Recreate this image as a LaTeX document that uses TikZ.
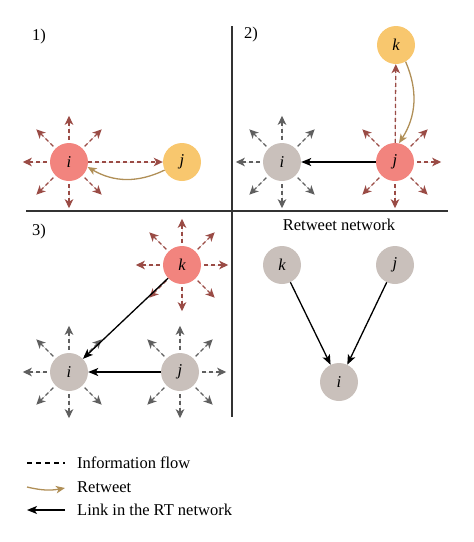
\documentclass[tikz,border=0pt]{standalone}
\usepackage{fontspec}
\setmainfont{Liberation Serif}
\usetikzlibrary{arrows.meta}
\definecolor{nred}{HTML}{F2847E}
\definecolor{nyel}{HTML}{F8C76E}
\definecolor{ngray}{HTML}{C9C0BB}
\definecolor{ared}{HTML}{9A4B45}
\definecolor{agray}{HTML}{5F5F5F}
\definecolor{rtan}{HTML}{B08F57}
\definecolor{pline}{HTML}{333333}
\begin{document}
\begin{tikzpicture}[x=1pt,y=-1pt,
  nd/.style={circle,minimum size=38pt,inner sep=0pt,font=\fontsize{16.5}{16.5}\selectfont\itshape},
  rednode/.style={nd,fill=nred},
  yelnode/.style={nd,fill=nyel},
  graynode/.style={nd,fill=ngray},
  tipd/.style={-{Stealth[length=9pt,width=8.5pt,inset=2.5pt]}},
  flowred/.style={tipd,draw=ared,fill=ared,line width=1.3pt,dash pattern=on 4pt off 3pt},
  flowgray/.style={tipd,draw=agray,fill=agray,line width=1.3pt,dash pattern=on 4pt off 3pt},
  rt/.style={draw=rtan,line width=1.3pt,-{Stealth[length=9pt,width=7.5pt,inset=2.5pt]}},
  link/.style={draw=black,line width=1.3pt,-{Stealth[length=10pt,width=8pt,inset=2.5pt]}},
  pl/.style={draw=pline,line width=1.2pt},
  lbl/.style={font=\fontsize{16.5}{16.5}\selectfont,inner sep=0pt},
]
\useasboundingbox (0,0) rectangle (474,542);
% panel lines
\coordinate (vt) at (232,26);
\coordinate (vb) at (232,417);
\coordinate (hl) at (26,211);
\coordinate (hr) at (448,211);
\draw[pl] (vt) -- (vb);
\draw[pl] (hl) -- (hr);
% labels
\node[lbl,anchor=west] (l1) at (32,37) {1)};
\node[lbl,anchor=west] (l2) at (244,35) {2)};
\node[lbl,anchor=west] (l3) at (32,232) {3)};
\node[lbl] (rtn) at (339,225) {Retweet network};
% panel 1
\node[rednode] (i1) at (69,162) {i};
\node[yelnode] (j1) at (182,162) {j};
\foreach \a in {45,90,135,180,-135,-90,-45}
  \draw[flowred] ([shift={(\a:3pt)}]i1.\a) -- ([shift={(\a:27pt)}]i1.\a);
\draw[flowred] (i1) -- (j1);
\draw[rt] (j1.205) to[bend left=28] (i1.-15);
% panel 2
\node[graynode] (i2) at (282,162) {i};
\node[rednode] (j2) at (395,162) {j};
\node[yelnode] (k2) at (396,45) {k};
\foreach \a in {45,90,135,180,-135,-90,-45}
  \draw[flowgray] ([shift={(\a:3pt)}]i2.\a) -- ([shift={(\a:27pt)}]i2.\a);
\foreach \a in {0,45,135,-135,-90,-45}
  \draw[flowred] ([shift={(\a:3pt)}]j2.\a) -- ([shift={(\a:27pt)}]j2.\a);
\draw[flowred] (j2) -- (k2);
\draw[rt] (k2.-60) to[bend left=28] (j2.78);
\draw[link] (j2) -- (i2);
% panel 3
\node[rednode] (k3) at (182,265) {k};
\node[graynode] (i3) at (69,372) {i};
\node[graynode] (j3) at (180,372) {j};
\foreach \a in {0,45,90,135,180,-135,-90,-45}
  \draw[flowred] ([shift={(\a:3pt)}]k3.\a) -- ([shift={(\a:27pt)}]k3.\a);
\foreach \a in {45,90,135,180,-135,-90,-45}
  \draw[flowgray] ([shift={(\a:3pt)}]i3.\a) -- ([shift={(\a:27pt)}]i3.\a);
\foreach \a in {0,45,90,135,-135,-90,-45}
  \draw[flowgray] ([shift={(\a:3pt)}]j3.\a) -- ([shift={(\a:27pt)}]j3.\a);
\draw[link] (k3) -- (i3);
\draw[link] (j3) -- (i3);
% panel 4
\node[graynode] (k4) at (282,265) {k};
\node[graynode] (j4) at (395,265) {j};
\node[graynode] (i4) at (339,382) {i};
\draw[link] (k4) -- (i4);
\draw[link] (j4) -- (i4);
% legend
\coordinate (d1) at (27,463);
\coordinate (d2) at (65,463);
\coordinate (r1) at (27,487);
\coordinate (r2) at (65,488);
\coordinate (k1) at (65,510);
\coordinate (k2c) at (27,510);
\draw[draw=black,line width=1.1pt,dash pattern=on 5pt off 4pt] (d1) -- (d2);
\draw[rt] (r1) to[bend right=12] (r2);
\draw[link] (k1) -- (k2c);
\node[lbl,anchor=west] (t1) at (77,463) {Information flow};
\node[lbl,anchor=west] (t2) at (77,487) {Retweet};
\node[lbl,anchor=west] (t3) at (77,510) {Link in the RT network};
\end{tikzpicture}
\end{document}
